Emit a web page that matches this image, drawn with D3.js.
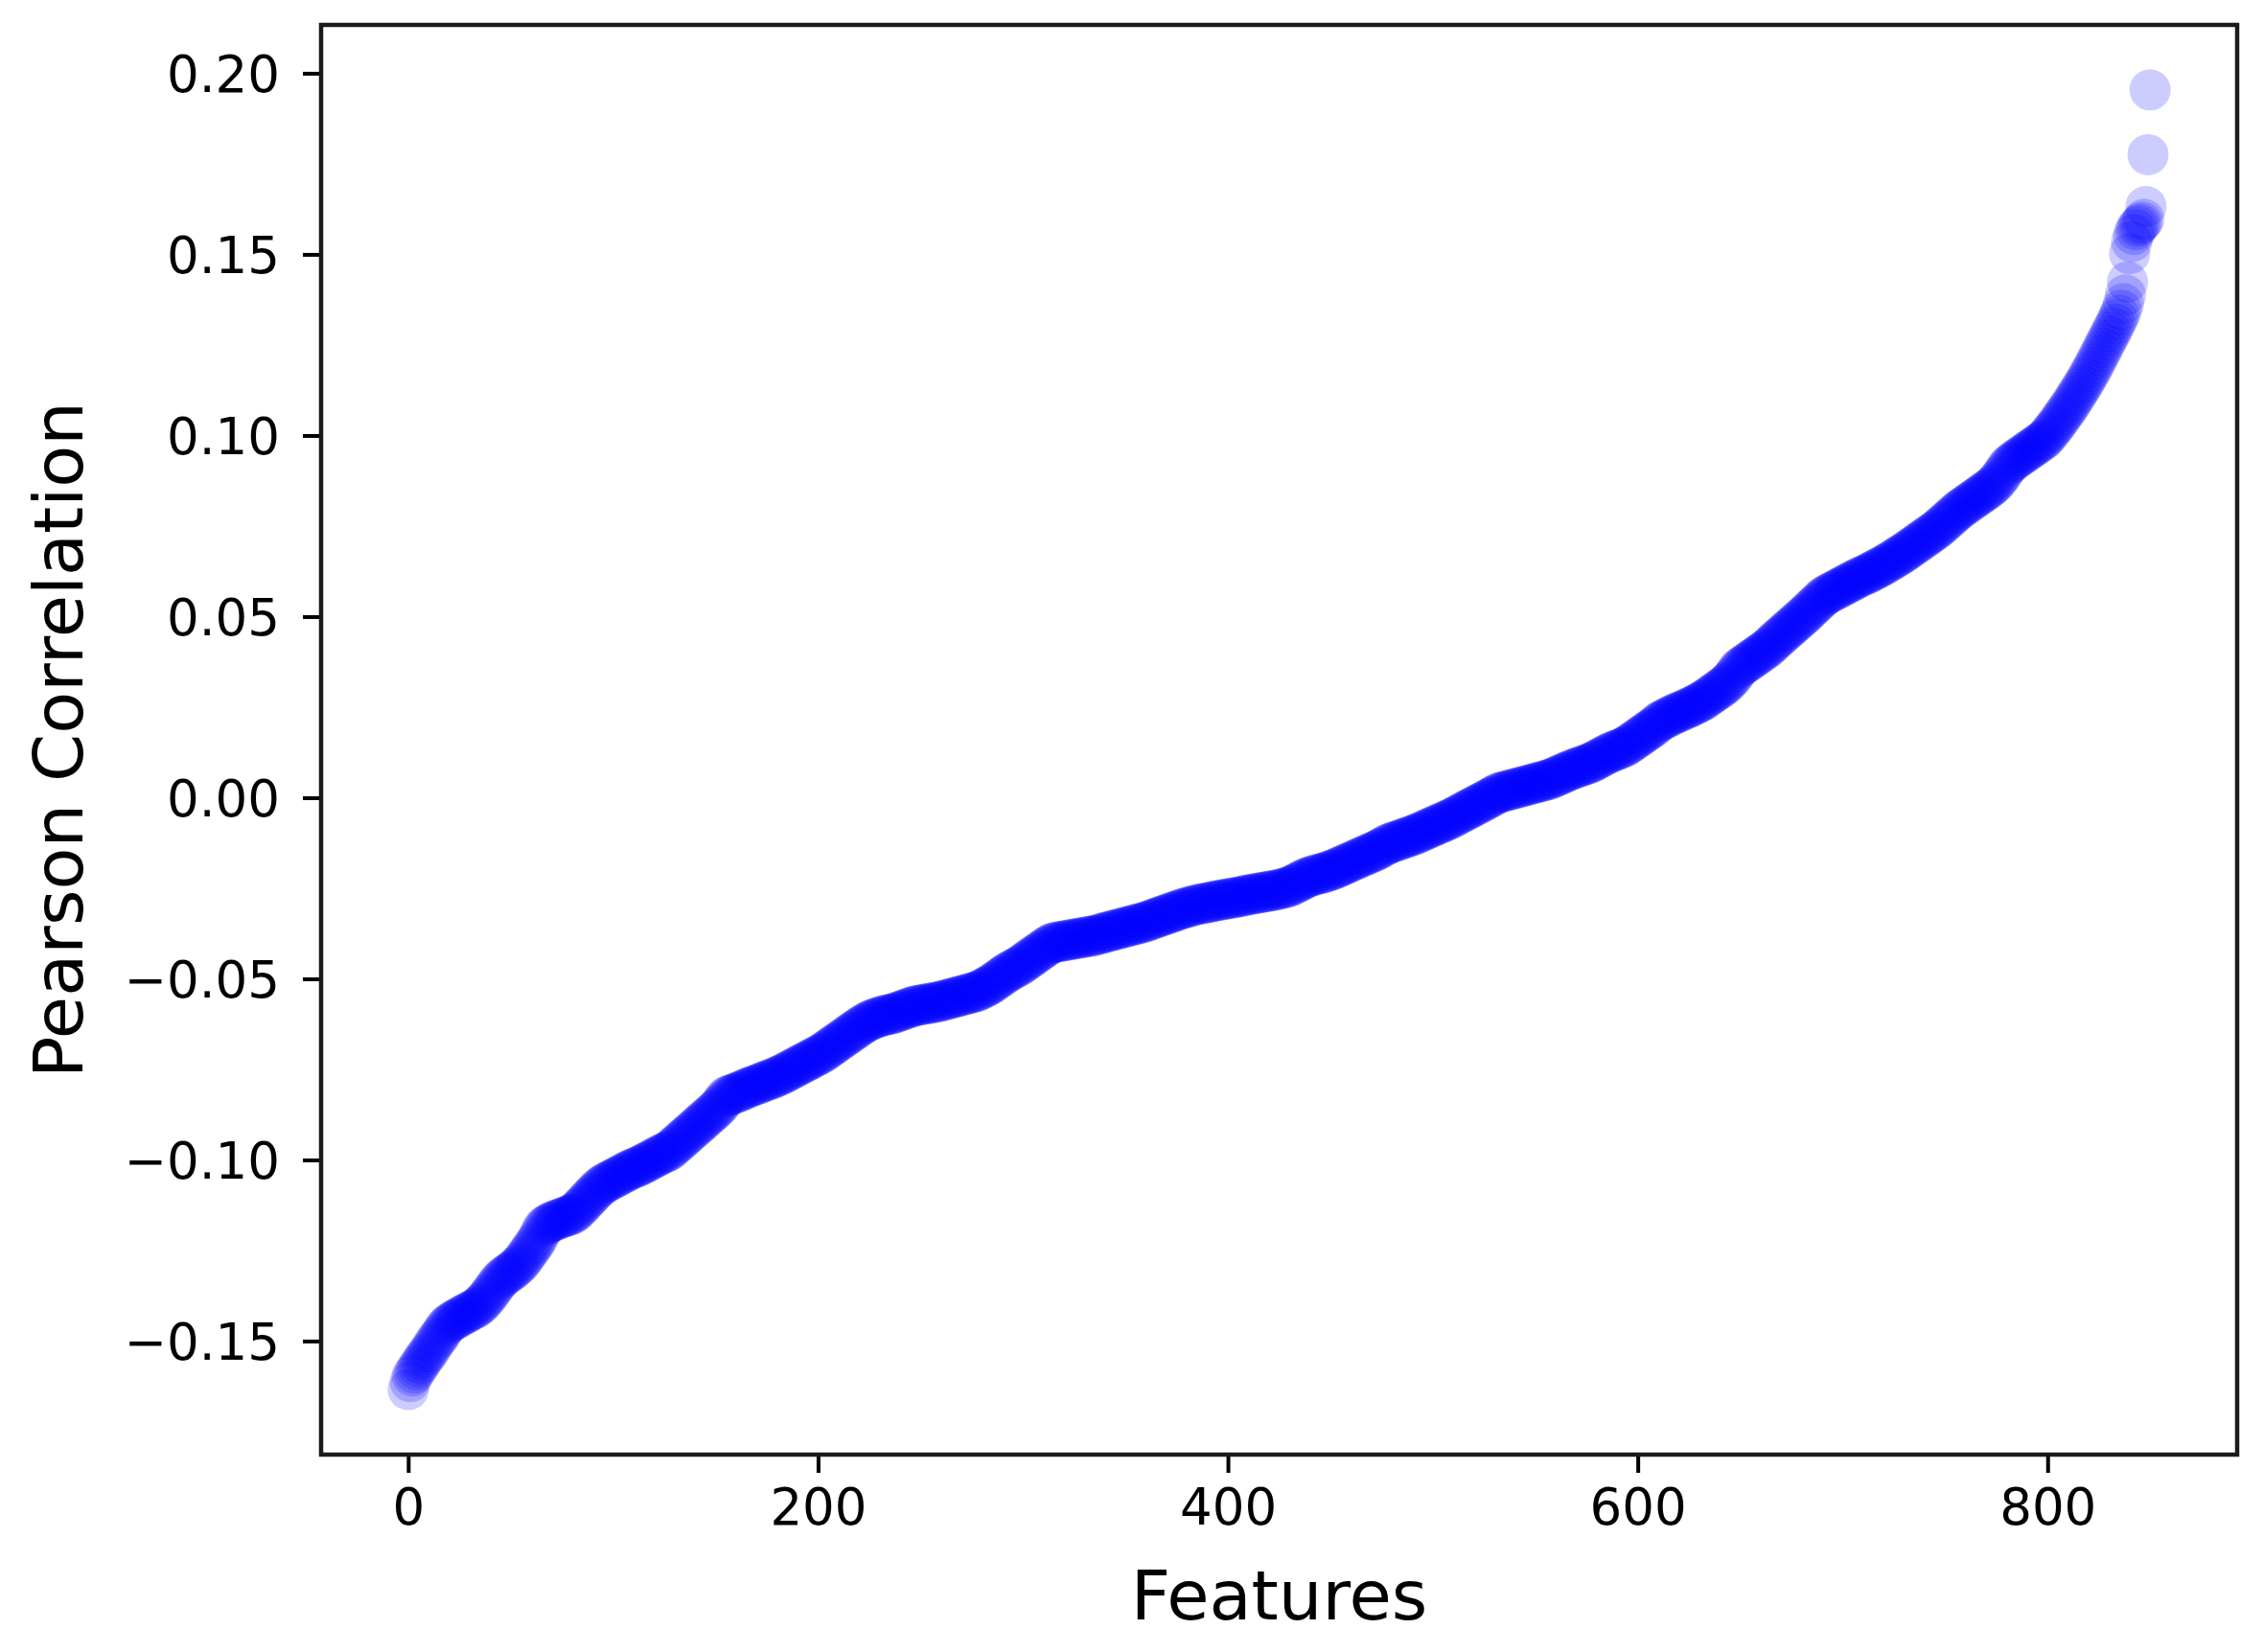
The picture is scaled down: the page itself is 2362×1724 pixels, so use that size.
<!DOCTYPE html>
<html>
<head>
<meta charset="utf-8">
<script src="https://cdn.jsdelivr.net/npm/d3@7"></script>
<style>
  html, body { margin: 0; padding: 0; background: #ffffff; }
  svg { display: block; }
  text { font-family: "DejaVu Sans", sans-serif; fill: #000; }
</style>
</head>
<body>
<svg id="chart" width="2362" height="1724"></svg>
<script>
// ---- data ----
const correlation = [
-0.1634,-0.1612,-0.1596,-0.1588,-0.1579,-0.1570,-0.1562,-0.1553,-0.1545,-0.1537,
-0.1530,-0.1521,-0.1512,-0.1503,-0.1495,-0.1488,-0.1480,-0.1471,-0.1462,-0.1456,
-0.1451,-0.1447,-0.1443,-0.1440,-0.1437,-0.1434,-0.1430,-0.1427,-0.1424,-0.1421,
-0.1418,-0.1415,-0.1412,-0.1409,-0.1405,-0.1400,-0.1395,-0.1389,-0.1382,-0.1375,
-0.1368,-0.1360,-0.1352,-0.1344,-0.1337,-0.1330,-0.1325,-0.1320,-0.1316,-0.1312,
-0.1308,-0.1304,-0.1299,-0.1294,-0.1289,-0.1283,-0.1276,-0.1268,-0.1260,-0.1252,
-0.1244,-0.1236,-0.1228,-0.1219,-0.1208,-0.1196,-0.1186,-0.1181,-0.1177,-0.1174,
-0.1171,-0.1168,-0.1166,-0.1164,-0.1162,-0.1160,-0.1158,-0.1156,-0.1154,-0.1152,
-0.1150,-0.1146,-0.1141,-0.1136,-0.1130,-0.1124,-0.1118,-0.1112,-0.1106,-0.1100,
-0.1094,-0.1088,-0.1082,-0.1077,-0.1072,-0.1068,-0.1064,-0.1061,-0.1058,-0.1055,
-0.1052,-0.1049,-0.1046,-0.1043,-0.1040,-0.1037,-0.1034,-0.1031,-0.1028,-0.1025,
-0.1023,-0.1021,-0.1018,-0.1016,-0.1013,-0.1010,-0.1007,-0.1004,-0.1001,-0.0998,
-0.0995,-0.0992,-0.0989,-0.0986,-0.0983,-0.0980,-0.0978,-0.0976,-0.0971,-0.0966,
-0.0961,-0.0956,-0.0951,-0.0946,-0.0941,-0.0936,-0.0931,-0.0926,-0.0921,-0.0916,
-0.0911,-0.0906,-0.0901,-0.0896,-0.0891,-0.0886,-0.0881,-0.0876,-0.0871,-0.0866,
-0.0861,-0.0855,-0.0849,-0.0842,-0.0834,-0.0826,-0.0823,-0.0821,-0.0819,-0.0817,
-0.0815,-0.0813,-0.0810,-0.0808,-0.0805,-0.0803,-0.0800,-0.0798,-0.0796,-0.0794,
-0.0792,-0.0790,-0.0788,-0.0785,-0.0783,-0.0781,-0.0779,-0.0777,-0.0775,-0.0772,
-0.0770,-0.0767,-0.0765,-0.0762,-0.0759,-0.0756,-0.0753,-0.0750,-0.0747,-0.0744,
-0.0741,-0.0738,-0.0735,-0.0732,-0.0729,-0.0726,-0.0723,-0.0720,-0.0717,-0.0714,
-0.0711,-0.0708,-0.0705,-0.0701,-0.0697,-0.0693,-0.0689,-0.0685,-0.0681,-0.0677,
-0.0673,-0.0669,-0.0665,-0.0661,-0.0657,-0.0653,-0.0649,-0.0645,-0.0641,-0.0637,
-0.0633,-0.0629,-0.0625,-0.0622,-0.0619,-0.0616,-0.0613,-0.0611,-0.0609,-0.0607,
-0.0605,-0.0603,-0.0601,-0.0600,-0.0599,-0.0598,-0.0597,-0.0595,-0.0593,-0.0591,
-0.0589,-0.0587,-0.0585,-0.0583,-0.0581,-0.0579,-0.0577,-0.0575,-0.0574,-0.0573,
-0.0572,-0.0571,-0.0570,-0.0569,-0.0568,-0.0567,-0.0566,-0.0565,-0.0564,-0.0563,
-0.0561,-0.0560,-0.0558,-0.0557,-0.0555,-0.0554,-0.0552,-0.0551,-0.0549,-0.0548,
-0.0546,-0.0545,-0.0543,-0.0542,-0.0540,-0.0539,-0.0537,-0.0536,-0.0534,-0.0531,
-0.0528,-0.0525,-0.0522,-0.0519,-0.0516,-0.0512,-0.0508,-0.0504,-0.0500,-0.0496,
-0.0492,-0.0488,-0.0484,-0.0480,-0.0477,-0.0474,-0.0471,-0.0468,-0.0465,-0.0461,
-0.0457,-0.0453,-0.0449,-0.0445,-0.0441,-0.0437,-0.0433,-0.0429,-0.0425,-0.0421,
-0.0417,-0.0413,-0.0409,-0.0405,-0.0402,-0.0400,-0.0399,-0.0398,-0.0397,-0.0396,
-0.0395,-0.0394,-0.0393,-0.0392,-0.0391,-0.0390,-0.0389,-0.0388,-0.0387,-0.0386,
-0.0385,-0.0384,-0.0383,-0.0382,-0.0381,-0.0380,-0.0379,-0.0377,-0.0375,-0.0374,
-0.0372,-0.0371,-0.0369,-0.0368,-0.0366,-0.0365,-0.0363,-0.0362,-0.0360,-0.0359,
-0.0357,-0.0356,-0.0354,-0.0353,-0.0351,-0.0350,-0.0348,-0.0347,-0.0345,-0.0344,
-0.0342,-0.0340,-0.0338,-0.0336,-0.0334,-0.0332,-0.0330,-0.0328,-0.0326,-0.0324,
-0.0322,-0.0320,-0.0318,-0.0316,-0.0314,-0.0312,-0.0310,-0.0308,-0.0306,-0.0304,
-0.0303,-0.0301,-0.0300,-0.0298,-0.0296,-0.0295,-0.0294,-0.0293,-0.0292,-0.0291,
-0.0290,-0.0289,-0.0287,-0.0286,-0.0285,-0.0284,-0.0283,-0.0282,-0.0281,-0.0280,
-0.0279,-0.0278,-0.0277,-0.0276,-0.0275,-0.0274,-0.0273,-0.0272,-0.0270,-0.0269,
-0.0268,-0.0267,-0.0266,-0.0265,-0.0264,-0.0263,-0.0262,-0.0261,-0.0260,-0.0259,
-0.0258,-0.0257,-0.0256,-0.0255,-0.0254,-0.0253,-0.0251,-0.0250,-0.0249,-0.0247,
-0.0245,-0.0243,-0.0240,-0.0237,-0.0234,-0.0231,-0.0228,-0.0225,-0.0222,-0.0220,
-0.0218,-0.0216,-0.0214,-0.0212,-0.0211,-0.0210,-0.0209,-0.0207,-0.0205,-0.0203,
-0.0201,-0.0199,-0.0197,-0.0195,-0.0192,-0.0189,-0.0187,-0.0184,-0.0182,-0.0179,
-0.0177,-0.0174,-0.0172,-0.0169,-0.0167,-0.0164,-0.0162,-0.0159,-0.0157,-0.0154,
-0.0152,-0.0149,-0.0147,-0.0144,-0.0141,-0.0138,-0.0135,-0.0131,-0.0128,-0.0126,
-0.0124,-0.0122,-0.0120,-0.0118,-0.0116,-0.0114,-0.0112,-0.0110,-0.0108,-0.0106,
-0.0104,-0.0102,-0.0100,-0.0097,-0.0095,-0.0092,-0.0090,-0.0087,-0.0085,-0.0082,
-0.0080,-0.0077,-0.0075,-0.0072,-0.0070,-0.0067,-0.0065,-0.0062,-0.0060,-0.0057,
-0.0054,-0.0051,-0.0048,-0.0045,-0.0042,-0.0039,-0.0036,-0.0033,-0.0030,-0.0027,
-0.0024,-0.0021,-0.0018,-0.0015,-0.0012,-0.0009,-0.0006,-0.0003,0.0000,0.0003,
0.0006,0.0010,0.0013,0.0015,0.0016,0.0018,0.0019,0.0021,0.0022,0.0024,
0.0025,0.0027,0.0028,0.0030,0.0031,0.0033,0.0034,0.0036,0.0037,0.0039,
0.0040,0.0042,0.0043,0.0045,0.0046,0.0048,0.0049,0.0051,0.0053,0.0056,
0.0058,0.0061,0.0063,0.0066,0.0068,0.0071,0.0073,0.0076,0.0078,0.0080,
0.0082,0.0084,0.0086,0.0088,0.0090,0.0092,0.0094,0.0096,0.0099,0.0102,
0.0105,0.0108,0.0111,0.0114,0.0117,0.0120,0.0123,0.0126,0.0128,0.0130,
0.0132,0.0134,0.0137,0.0139,0.0142,0.0145,0.0149,0.0153,0.0157,0.0161,
0.0165,0.0169,0.0173,0.0177,0.0181,0.0185,0.0189,0.0193,0.0197,0.0202,
0.0208,0.0211,0.0214,0.0217,0.0220,0.0223,0.0226,0.0229,0.0232,0.0234,
0.0236,0.0239,0.0241,0.0244,0.0246,0.0249,0.0251,0.0254,0.0257,0.0260,
0.0263,0.0266,0.0269,0.0273,0.0277,0.0281,0.0285,0.0289,0.0293,0.0297,
0.0301,0.0305,0.0309,0.0314,0.0319,0.0325,0.0331,0.0338,0.0347,0.0355,
0.0360,0.0364,0.0368,0.0372,0.0376,0.0380,0.0384,0.0388,0.0392,0.0396,
0.0400,0.0404,0.0408,0.0412,0.0417,0.0422,0.0428,0.0433,0.0438,0.0443,
0.0448,0.0453,0.0458,0.0463,0.0468,0.0473,0.0478,0.0483,0.0488,0.0493,
0.0498,0.0503,0.0508,0.0513,0.0519,0.0525,0.0530,0.0535,0.0540,0.0546,
0.0552,0.0556,0.0560,0.0563,0.0566,0.0569,0.0572,0.0575,0.0578,0.0581,
0.0584,0.0587,0.0590,0.0593,0.0596,0.0599,0.0602,0.0605,0.0608,0.0611,
0.0613,0.0615,0.0618,0.0621,0.0624,0.0627,0.0630,0.0633,0.0636,0.0639,
0.0642,0.0645,0.0649,0.0652,0.0656,0.0659,0.0663,0.0666,0.0670,0.0673,
0.0677,0.0681,0.0685,0.0689,0.0693,0.0697,0.0701,0.0705,0.0709,0.0713,
0.0717,0.0721,0.0725,0.0729,0.0733,0.0737,0.0741,0.0746,0.0751,0.0756,
0.0761,0.0766,0.0771,0.0776,0.0781,0.0786,0.0791,0.0796,0.0800,0.0804,
0.0808,0.0812,0.0816,0.0820,0.0824,0.0828,0.0832,0.0836,0.0840,0.0844,
0.0848,0.0852,0.0856,0.0861,0.0866,0.0872,0.0879,0.0886,0.0894,0.0903,
0.0912,0.0918,0.0923,0.0928,0.0932,0.0936,0.0940,0.0944,0.0948,0.0952,
0.0956,0.0960,0.0964,0.0968,0.0972,0.0976,0.0980,0.0984,0.0988,0.0993,
0.1000,0.1007,0.1014,0.1021,0.1028,0.1036,0.1044,0.1052,0.1060,0.1068,
0.1076,0.1084,0.1093,0.1102,0.1111,0.1120,0.1129,0.1138,0.1147,0.1157,
0.1167,0.1177,0.1187,0.1198,0.1209,0.1220,0.1231,0.1242,0.1253,0.1264,
0.1275,0.1286,0.1297,0.1308,0.1320,0.1332,0.1346,0.1364,0.1388,0.1424,
0.1502,0.1535,0.1555,0.1568,0.1577,0.1583,0.1589,0.1597,0.1632,0.1775,
0.1954
];
const features = correlation.map((_, i) => i);   // feature index (x)
const xTickValues = [0, 200, 400, 600, 800];
const xTickLabels = ["0", "200", "400", "600", "800"];
const yTickValues = [-0.15, -0.10, -0.05, 0.00, 0.05, 0.10, 0.15, 0.20];
const yTickLabels = ["\u22120.15", "\u22120.10", "\u22120.05", "0.00", "0.05", "0.10", "0.15", "0.20"];
const xLabel = "Features";
const yLabel = "Pearson Correlation";

// ---- layout ----
const plot = { left: 335, right: 2334, top: 26, bottom: 1518 };
const tickFont = 53, labelFont = 72;

const svg = d3.select("#chart");

// matplotlib-like 5% margins
const xExt = d3.extent(features), yExt = d3.extent(correlation);
const xPad = (xExt[1] - xExt[0]) * 0.05, yPad = (yExt[1] - yExt[0]) * 0.05;
const x = d3.scaleLinear().domain([xExt[0] - xPad, xExt[1] + xPad]).range([plot.left, plot.right]);
const y = d3.scaleLinear().domain([yExt[0] - yPad, yExt[1] + yPad]).range([plot.bottom, plot.top]);

// points
svg.append("g")
  .selectAll("circle")
  .data(correlation)
  .join("circle")
  .attr("cx", (d, i) => x(features[i]))
  .attr("cy", d => y(d))
  .attr("r", 21.5)
  .attr("fill", "#0000ff")
  .attr("fill-opacity", 0.2);

// axes
const xAxis = d3.axisBottom(x).tickValues(xTickValues)
  .tickFormat((d, i) => xTickLabels[i]).tickSizeInner(19).tickSizeOuter(0).tickPadding(14);
const yAxis = d3.axisLeft(y).tickValues(yTickValues)
  .tickFormat((d, i) => yTickLabels[i]).tickSizeInner(19).tickSizeOuter(0).tickPadding(24);

const gx = svg.append("g").attr("transform", `translate(0,${plot.bottom})`).call(xAxis);
const gy = svg.append("g").attr("transform", `translate(${plot.left},0)`).call(yAxis);
[gx, gy].forEach(g => {
  g.select(".domain").remove();
  g.selectAll(".tick line").attr("stroke", "#000").attr("stroke-width", 4);
  g.selectAll(".tick text").attr("font-size", tickFont)
    .attr("font-family", "DejaVu Sans, sans-serif").attr("fill", "#000");
});
gx.selectAll(".tick text").attr("dy", "0.76em");
gy.selectAll(".tick text").attr("dy", "0.36em");

// frame (spines)
svg.append("rect")
  .attr("x", plot.left).attr("y", plot.top)
  .attr("width", plot.right - plot.left).attr("height", plot.bottom - plot.top)
  .attr("fill", "none").attr("stroke", "#1a1a1a").attr("stroke-width", 4.5);

// axis labels
svg.append("text")
  .attr("x", (plot.left + plot.right) / 2).attr("y", 1690)
  .attr("text-anchor", "middle").attr("font-size", labelFont)
  .text(xLabel);

svg.append("text")
  .attr("transform", `translate(86,${(plot.top + plot.bottom) / 2}) rotate(-90)`)
  .attr("text-anchor", "middle").attr("font-size", labelFont)
  .text(yLabel);
</script>
</body>
</html>
